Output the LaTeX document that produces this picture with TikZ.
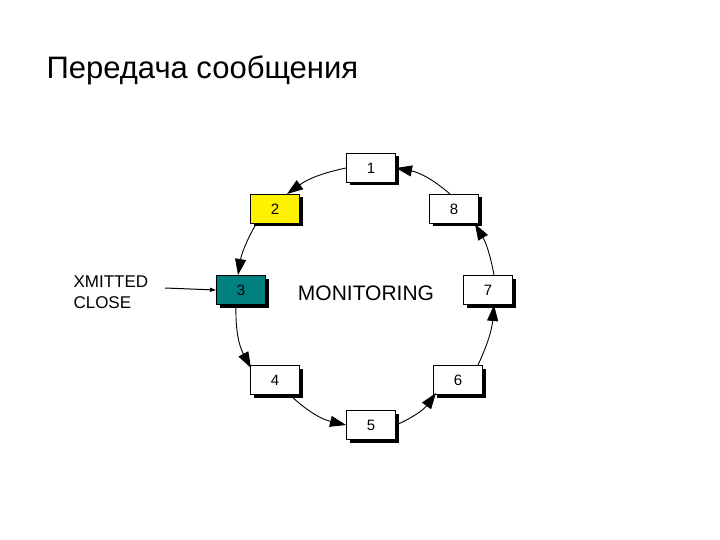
\documentclass[tikz,border=0pt]{standalone}
\usepackage{fontspec}
\setmainfont{Liberation Sans}
\usetikzlibrary{arrows.meta,shadows}
\begin{document}
\begin{tikzpicture}[x=1pt,y=-1pt,
  st/.style={draw=black,line width=1pt,minimum width=49pt,minimum height=29pt,inner sep=0pt,font=\fontsize{15}{17}\selectfont,
    drop shadow={shadow xshift=3.5pt,shadow yshift=-3pt,opacity=1,fill=black}},
  ar/.style={line width=0.9pt,-{Triangle[length=16pt,width=11pt]}}]
\useasboundingbox (0,0) rectangle (720,540);
\node[anchor=west,font=\fontsize{31}{36}\selectfont] (t) at (43,70) {Передача сообщения};
\node[st,fill=white] (n1) at (371,168) {1};
\node[st,fill=yellow] (n2) at (275,209) {2};
\node[st,fill=white] (n8) at (454,209) {8};
\node[st,fill={rgb,255:red,0;green,128;blue,128}] (n3) at (241,290) {3};
\node[st,fill=white] (n7) at (488,290) {7};
\node[st,fill=white] (n4) at (275,380) {4};
\node[st,fill=white] (n6) at (458,380) {6};
\node[st,fill=white] (n5) at (371,425) {5};
\node[font=\fontsize{21}{25}\selectfont] (m) at (366,293) {MONITORING};
\node[align=left,anchor=west,font=\fontsize{17}{21}\selectfont] (x) at (70,292) {XMITTED\\CLOSE};
\draw[line width=1pt,-{Triangle[length=6pt,width=4pt]}] (165,288) coordinate (xs) -- (n3.west);
\draw[ar] (n1.west) to[bend right=12] (287,194);
\draw[ar] (256,224) to[bend right=10] (238,275);
\draw[ar] (236,305) to[bend right=15] (251,368);
\draw[ar] (290,395) to[bend right=15] (n5.west);
\draw[ar] (n5.east) to[bend right=15] (436,393);
\draw[ar] (478,365) to[bend right=10] (494,305);
\draw[ar] (494,275) to[bend right=10] (475,224);
\draw[ar] (450,194) to[bend right=15] (n1.east);
\end{tikzpicture}
\end{document}
